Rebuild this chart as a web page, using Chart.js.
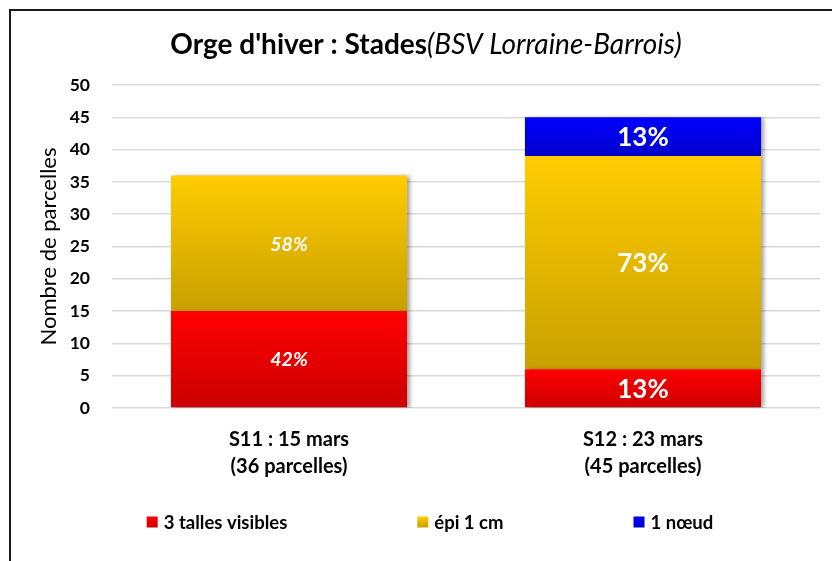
<!DOCTYPE html>
<html><head><meta charset="utf-8">
<script src="https://cdn.jsdelivr.net/npm/chart.js@4"></script>
<style>
html,body{margin:0;padding:0;background:#fff;overflow:hidden;width:832px;height:561px;}
#frame{position:absolute;left:9px;top:9px;width:900px;height:700px;border:2px solid #1a1a1a;box-sizing:border-box;}
#wrap{position:absolute;left:10px;top:0;width:832px;height:561px;}
</style></head><body>
<div id="frame"></div>
<div id="wrap"><canvas id="c" width="832" height="561"></canvas></div>
<script>
const categories = [["S11 : 15 mars", "(36 parcelles)"], ["S12 : 23 mars", "(45 parcelles)"]];
const seriesNames = ["3 talles visibles", "épi 1 cm", "1 nœud"];
const talles = [15, 6];
const epi = [21, 33];
const noeud = [0, 6];
const yMin = 0, yMax = 50, yStep = 5;
const titleBold = "Orge d'hiver : Stades";
const titleItalic = "(BSV Lorraine-Barrois)";
const yTitle = "Nombre de parcelles";

const FONT = "Lato, 'Open Sans', sans-serif";
const colorsTop = ['#FF0000', '#FFCC00', '#0000FF'];
const colorsBottom = ['#CC0000', '#C8A000', '#0000CC'];

function grad(d) {
  return (ctx) => {
    const chart = ctx.chart;
    if (!chart.chartArea || ctx.type !== 'data') return colorsTop[d];
    const i = ctx.dataIndex;
    let start = 0;
    for (let k = 0; k < d; k++) start += chart.data.datasets[k].data[i];
    const end = start + chart.data.datasets[d].data[i];
    const y = chart.scales.y;
    const y1 = y.getPixelForValue(end), y0 = y.getPixelForValue(start);
    if (!isFinite(y1) || !isFinite(y0) || y1 === y0) return colorsTop[d];
    const g = chart.ctx.createLinearGradient(0, y1, 0, y0);
    g.addColorStop(0, colorsTop[d]);
    g.addColorStop(1, colorsBottom[d]);
    return g;
  };
}

const seriesData = [talles, epi, noeud];
const datasets = seriesData.map((arr, d) => ({
  label: seriesNames[d],
  data: arr,
  backgroundColor: grad(d),
  borderWidth: 0,
  barPercentage: 1,
  categoryPercentage: 0.667
}));

const shadowPlugin = {
  id: 'shadowPlugin',
  beforeDatasetsDraw(chart) {
    const c = chart.ctx; c.save();
    c.shadowColor = 'rgba(0,0,0,0.35)'; c.shadowBlur = 4; c.shadowOffsetX = 3; c.shadowOffsetY = 1;
  },
  afterDatasetsDraw(chart) { chart.ctx.restore(); }
};

const labelPlugin = {
  id: 'labelPlugin',
  afterDraw(chart) {
    const c = chart.ctx;
    const totals = categories.map((_, i) => chart.data.datasets.reduce((s, ds) => s + ds.data[i], 0));
    c.save();
    c.fillStyle = '#fff'; c.textAlign = 'center'; c.textBaseline = 'middle';
    chart.data.datasets.forEach((ds, d) => {
      chart.getDatasetMeta(d).data.forEach((bar, i) => {
        const v = ds.data[i];
        if (!v) return;
        const pct = Math.round(v / totals[i] * 100) + '%';
        c.font = i === 0 ? `italic bold 19.5px ${FONT}` : `bold 26px ${FONT}`;
        c.fillText(pct, bar.x, (bar.y + bar.base) / 2 + 1);
      });
    });
    c.restore();
  }
};

const titlePlugin = {
  id: 'titlePlugin',
  afterDraw(chart) {
    const c = chart.ctx;
    c.save();
    c.fillStyle = '#000'; c.textBaseline = 'middle'; c.textAlign = 'left';
    const fb = `bold 28px ${FONT}`, fi = `italic 28px ${FONT}`;
    c.font = fb; const wb = c.measureText(titleBold).width;
    c.font = fi; const wi = c.measureText(titleItalic).width;
    const x0 = chart.width / 2 - (wb + wi) / 2;
    c.font = fb; c.fillText(titleBold, x0, 45);
    c.font = fi; c.fillText(titleItalic, x0 + wb, 45);
    c.restore();
  }
};

const legendPlugin = {
  id: 'legendPlugin',
  afterDraw(chart) {
    const c = chart.ctx;
    c.save();
    c.font = `bold 18.5px ${FONT}`; c.textBaseline = 'middle'; c.textAlign = 'left';
    const box = 11, gapText = 6, gap = 130, y = 522;
    const widths = chart.data.datasets.map(ds => box + gapText + c.measureText(ds.label).width);
    const total = widths.reduce((a, b) => a + b, 0) + gap * (widths.length - 1);
    let x = chart.width / 2 + 4 - total / 2;
    chart.data.datasets.forEach((ds, d) => {
      const g = c.createLinearGradient(0, y - box / 2, 0, y + box / 2);
      g.addColorStop(0, colorsTop[d]); g.addColorStop(1, colorsBottom[d]);
      c.fillStyle = g;
      c.fillRect(x, y - box / 2, box, box);
      c.fillStyle = '#000';
      c.fillText(ds.label, x + box + gapText, y + 1);
      x += widths[d] + gap;
    });
    c.restore();
  }
};

new Chart(document.getElementById('c'), {
  type: 'bar',
  data: { labels: categories, datasets },
  options: {
    responsive: false,
    animation: false,
    events: [],
    layout: { padding: { top: 85, right: 22, bottom: 0, left: 0 } },
    plugins: { legend: { display: false }, title: { display: false }, tooltip: { enabled: false } },
    scales: {
      x: {
        stacked: true,
        grid: { display: false },
        border: { display: false },
        ticks: { color: '#000', font: { family: FONT, size: 20, weight: 'bold', lineHeight: 1.35 }, padding: 10 },
        afterFit(s) { s.height = 153; }
      },
      y: {
        stacked: true,
        min: yMin, max: yMax,
        ticks: { stepSize: yStep, color: '#000', font: { family: FONT, size: 17.5, weight: 'bold' }, padding: 22 },
        grid: { color: '#D9D9D9', lineWidth: 1.5, drawTicks: false },
        border: { display: false },
        title: { display: true, text: yTitle, color: '#000', font: { family: FONT, size: 22 }, padding: { top: 26, bottom: 0 } },
        afterFit(s) { s.width = 102; }
      }
    }
  },
  plugins: [shadowPlugin, labelPlugin, titlePlugin, legendPlugin]
});
</script>
</body></html>
